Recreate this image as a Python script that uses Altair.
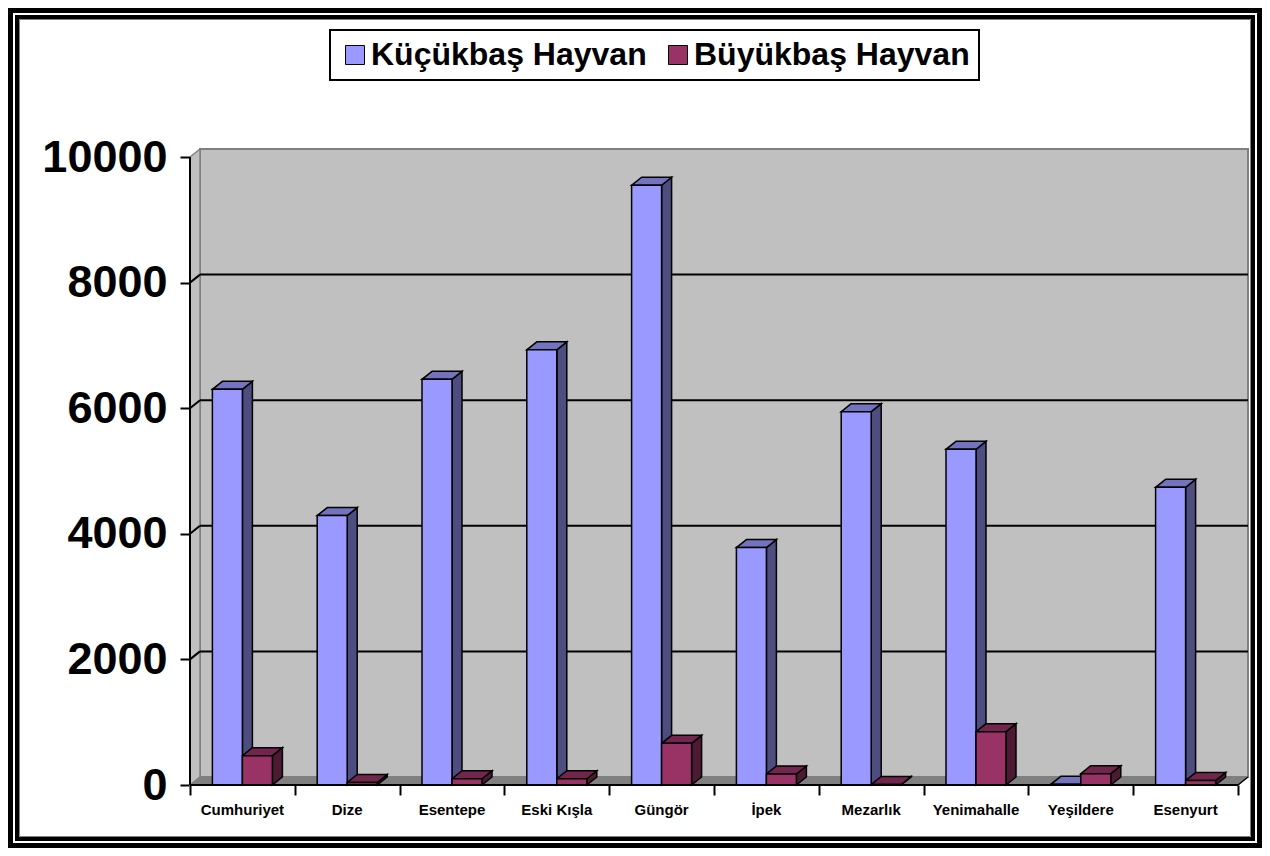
import altair as alt
import pandas as pd

# ---------------- data ----------------
categories = ["Cumhuriyet", "Dize", "Esentepe", "Eski Kışla", "Güngör",
              "İpek", "Mezarlık", "Yenimahalle", "Yeşildere", "Esenyurt"]
series = ["Küçükbaş Hayvan", "Büyükbaş Hayvan"]
kucukbas = [6300, 4290, 6460, 6930, 9550, 3780, 5945, 5345, 10, 4740]
buyukbas = [467, 40, 100, 100, 664, 175, 8, 849, 180, 70]
y_ticks = [0, 2000, 4000, 6000, 8000, 10000]

front_colors = ["#9999FF", "#993366"]
top_colors = ["#7373BF", "#73264D"]
side_colors = ["#4D4D80", "#4D1A33"]

FONT = "Liberation Sans"

# ---------------- geometry (pseudo 3-D) ----------------
N = len(categories)
PLOT_W, PLOT_H = 1058, 636          # plot area incl. depth
FRONT_W, FRONT_H = 1048, 628        # front plane
DEPTH_X, DEPTH_Y = 10, 8            # depth offset in px
XMAX = N * PLOT_W / FRONT_W
YMAX = 10000 * PLOT_H / FRONT_H
DX = N * DEPTH_X / FRONT_W
DY = 10000 * DEPTH_Y / FRONT_H
BAR_START, BAR_W = 0.2137, 0.2863

front_rows, side_rows, top_rows = [], [], []
for j, vals in enumerate([kucukbas, buyukbas]):
    for i, v in enumerate(vals):
        bid = f"{j}-{i}"
        x0 = i + BAR_START + j * BAR_W
        x1 = x0 + BAR_W
        front_rows.append(dict(id=bid, series=series[j], x0=x0, x1=x1, v=v, zero=0))
        side_rows.append(dict(id=bid, col=side_colors[j], x=x1, top=v, bot=0))
        side_rows.append(dict(id=bid, col=side_colors[j], x=x1 + DX, top=v + DY, bot=DY))
        top_rows.append(dict(id=bid, col=top_colors[j], y=v, xa=x0, xb=x1))
        top_rows.append(dict(id=bid, col=top_colors[j], y=v + DY, xa=x0 + DX, xb=x1 + DX))
front_df = pd.DataFrame(front_rows)
side_df = pd.DataFrame(side_rows)
top_df = pd.DataFrame(top_rows)

x_scale = alt.Scale(domain=[0, XMAX], nice=False, zero=False)
y_scale = alt.Scale(domain=[0, YMAX], nice=False)
x_axis = alt.Axis(values=list(range(N + 1)), labels=False, tickSize=10, tickWidth=2,
                  tickColor="black", domain=False, grid=False, title=None)
y_axis = alt.Axis(values=y_ticks, tickSize=10, tickWidth=2, tickColor="black",
                  domain=False, grid=False, title=None, labelFont=FONT,
                  labelFontSize=45, labelFontWeight="bold", labelColor="black",
                  labelPadding=13, format="d")

def X(f, t="Q"):
    return alt.X(f"{f}:{t}", scale=x_scale, axis=x_axis)

def Y(f):
    return alt.Y(f"{f}:Q", scale=y_scale, axis=y_axis)

# ---------------- walls ----------------
wall_df = pd.DataFrame([dict(xa=DX, xb=XMAX, ya=DY, yb=YMAX)])
back_wall = alt.Chart(wall_df).mark_rect(fill="#C0C0C0", stroke="#808080", strokeWidth=2).encode(
    x=X("xa"), x2="xb", y=Y("ya"), y2="yb")

side_wall_df = pd.DataFrame([dict(x=0, top=10000, bot=0), dict(x=DX, top=YMAX, bot=DY)])
side_wall = alt.Chart(side_wall_df).mark_area(fill="#C0C0C0", stroke="#808080", strokeWidth=1.5).encode(
    x=X("x"), y=Y("top"), y2="bot")

floor_df = pd.DataFrame([dict(y=0, xa=0, xb=N), dict(y=DY, xa=DX, xb=XMAX)])
floor = alt.Chart(floor_df).mark_area(orient="horizontal", fill="#808080", stroke="#808080",
                                      strokeWidth=1).encode(
    y=Y("y"), x=X("xa"), x2="xb")

grid_df = pd.DataFrame([dict(v=v + DY, xa=DX, xb=XMAX) for v in y_ticks[1:-1]])
grid = alt.Chart(grid_df).mark_rule(color="black", strokeWidth=2).encode(
    y=Y("v"), x=X("xa"), x2="xb")

diag_rows = []
for v in y_ticks[1:-1]:
    diag_rows.append(dict(g=v, x=0, y=v))
    diag_rows.append(dict(g=v, x=DX, y=v + DY))
diag = alt.Chart(pd.DataFrame(diag_rows)).mark_line(color="black", strokeWidth=2).encode(
    x=X("x"), y=Y("y"), detail="g:N")

floor_edge = alt.Chart(pd.DataFrame([dict(x=N, y=0), dict(x=XMAX, y=DY)])).mark_line(
    color="black", strokeWidth=1.5).encode(x=X("x"), y=Y("y"))

# ---------------- bars ----------------
side = alt.Chart(side_df).mark_area(stroke="black", strokeWidth=1.5, strokeJoin="miter").encode(
    x=X("x"), y=Y("top"), y2="bot", detail="id:N",
    fill=alt.Fill("col:N", scale=None))

top = alt.Chart(top_df).mark_area(orient="horizontal", stroke="black", strokeWidth=1.5,
                                  strokeJoin="miter").encode(
    y=Y("y"), x=X("xa"), x2="xb", detail="id:N",
    fill=alt.Fill("col:N", scale=None))

front = alt.Chart(front_df).mark_rect(stroke="black", strokeWidth=1.5).encode(
    x=X("x0"), x2="x1", y=Y("v"), y2="zero",
    color=alt.Color("series:N", scale=alt.Scale(domain=series, range=front_colors),
                    legend=alt.Legend(orient="none", legendX=140, legendY=-119,
                                      direction="horizontal", title=None,
                                      symbolType="square", symbolSize=361,
                                      symbolStrokeColor="black", symbolStrokeWidth=1,
                                      labelFont=FONT, labelFontSize=32,
                                      labelFontWeight="bold", labelColor="black",
                                      labelLimit=500, labelOffset=0,
                                      strokeColor="black", fillColor="white",
                                      padding=9, columnPadding=15)))

# ---------------- axis lines ----------------
xline = alt.Chart(pd.DataFrame([dict(a=0, b=N, y=0)])).mark_rule(color="black", strokeWidth=2).encode(
    x=X("a"), x2="b", y=Y("y"))
yline = alt.Chart(pd.DataFrame([dict(a=0, b=10000, x=0)])).mark_rule(color="black", strokeWidth=2).encode(
    y=Y("a"), y2="b", x=X("x"))

# ---------------- category labels ----------------
lab_df = pd.DataFrame(dict(cat=categories, pos=[i + 0.5 for i in range(N)]))
labels = alt.Chart(lab_df).mark_text(font=FONT, fontSize=15, fontWeight="bold", color="black",
                                     baseline="middle", align="center").encode(
    x=X("pos"), y=alt.value(661), text="cat:N")

# ---------------- frame ----------------
one = pd.DataFrame([dict(a=1)])
frame_outer = alt.Chart(one).mark_rect(filled=False, stroke="black", strokeWidth=5).encode(
    x=alt.value(-179.5), x2=alt.value(1069.5), y=alt.value(-138.5), y2=alt.value(696.5))
frame_inner = alt.Chart(one).mark_rect(filled=False, stroke="black", strokeWidth=4).encode(
    x=alt.value(-173), x2=alt.value(1063), y=alt.value(-132), y2=alt.value(690))
frame_shadow = alt.Chart(one).mark_rect(filled=False, stroke="#808080", strokeWidth=1).encode(
    x=alt.value(-170.5), x2=alt.value(1060.5), y=alt.value(-129.5), y2=alt.value(687.5))

chart = alt.layer(
    frame_outer, frame_inner, frame_shadow,
    back_wall, side_wall, floor, grid, diag, floor_edge,
    side, top, front, xline, yline, labels
).properties(
    width=PLOT_W, height=PLOT_H,
    autosize=alt.AutoSizeParams(type="none"),
    padding={"left": 182, "top": 141, "right": 14, "bottom": 63},
    background="white",
).configure_view(stroke=None).configure_legend(strokeWidth=2)

chart.save("out.html", embed_options={"renderer": "svg", "actions": False})
